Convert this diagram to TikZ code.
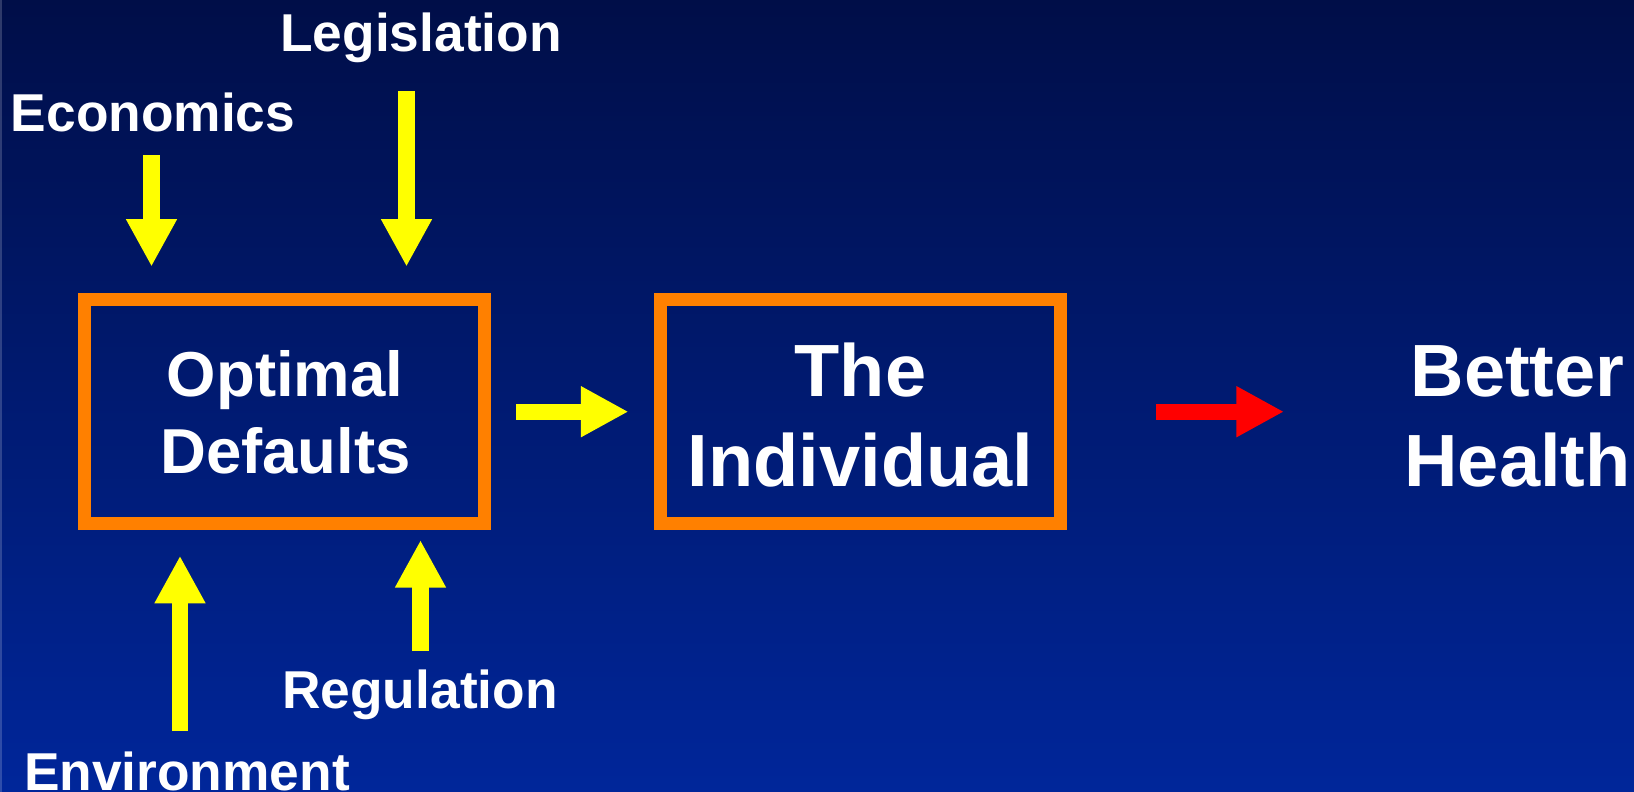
\documentclass[tikz,border=0pt]{standalone}
\usepackage{fontspec}
\setmainfont{Liberation Sans}
\usetikzlibrary{arrows.meta}
\definecolor{bgTop}{RGB}{0,14,72}
\definecolor{bgBot}{RGB}{0,38,154}
\definecolor{boxOrange}{RGB}{255,128,0}
\definecolor{arrYellow}{RGB}{255,255,0}
\definecolor{arrRed}{RGB}{255,0,0}
\tikzset{
  framebox/.style={draw=boxOrange, line width=12.4pt, minimum width=400pt, minimum height=224pt, inner sep=0pt},
  blockarrow/.style={line width=16.4pt, -{Triangle[width=47.6pt,length=47.6pt]}},
  yarrow/.style={blockarrow, draw=arrYellow},
  rarrow/.style={blockarrow, draw=arrRed},
  lbl/.style={text=white, font=\bfseries\fontsize{53.3}{60}\selectfont, anchor=base, inner sep=0pt},
  boxtxt/.style={text=white, font=\bfseries\fontsize{63.5}{77}\selectfont, anchor=base, inner sep=0pt},
  bigtxt/.style={text=white, font=\bfseries\fontsize{74}{90}\selectfont, anchor=base, inner sep=0pt},
}
\begin{document}
\begin{tikzpicture}[x=1pt,y=-1pt]
\useasboundingbox (0,0) rectangle (1634,792);
\shade[top color=bgTop, bottom color=bgBot] (0,0) rectangle (1634,792);
\draw[white, opacity=0.18, line width=2pt] (1,0) -- (1,792);

% boxes
\node[framebox] (b1) at (284.3,411.3) {};
\node[framebox] (b2) at (860.4,411.3) {};

% box texts
\node[boxtxt] (t1a) at (285,396) {Optimal};
\node[boxtxt] (t1b) at (285.5,473) {Defaults};
\node[bigtxt] (t2a) at (860.5,396) {The};
\node[bigtxt] (t2b) at (860.5,486) {Individual};
\node[bigtxt] (t3a) at (1517.5,396) {Better};
\node[bigtxt] (t3b) at (1517.5,486) {Health};

% factor labels
\node[lbl] (leg) at (421,51.7) {Legislation};
\node[lbl] (eco) at (153,131.7) {Economics};
\node[lbl] (reg) at (420,708.3) {Regulation};
\node[lbl] (env) at (187,790) {Environment};

% arrow ends
\coordinate (ecoS) at (151.5,155);
\coordinate (ecoE) at (151.5,266.7);
\coordinate (legS) at (406.5,91);
\coordinate (legE) at (406.5,266.7);
\coordinate (envS) at (180,731);
\coordinate (envE) at (180,555.7);
\coordinate (regS) at (420.5,651);
\coordinate (regE) at (420.5,540);
\coordinate (redS) at (1156,411.7);
\coordinate (redE) at (1284,411.7);

\draw[yarrow] (ecoS) -- (ecoE);
\draw[yarrow] (legS) -- (legE);
\draw[yarrow] (envS) -- (envE);
\draw[yarrow] (regS) -- (regE);
\draw[yarrow] ([xshift=25.6pt,yshift=-0.4pt]b1.east) -- ([xshift=-25.7pt,yshift=-0.4pt]b2.west);
\draw[rarrow] (redS) -- (redE);
\end{tikzpicture}
\end{document}
